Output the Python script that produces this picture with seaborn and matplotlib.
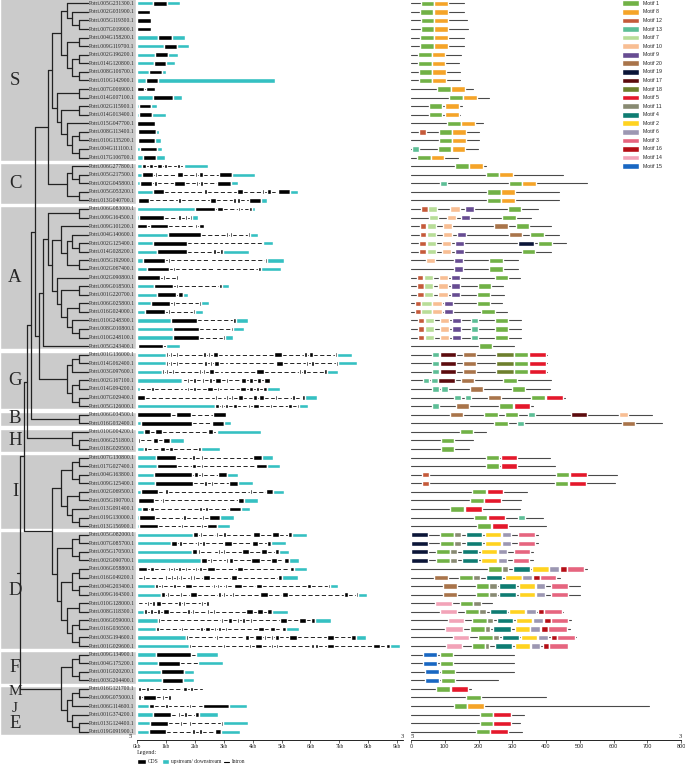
import matplotlib.pyplot as plt
import seaborn as sns

# gene order (top to bottom), grouped into subfamilies
gene_ids = [
    "005G231300", "002G031900", "005G119300", "007G019900", "004G158200", "009G119700",
    "002G196200", "014G120800", "008G106700", "010G142900", "007G006900", "014G007100",
    "002G115900", "014G013400", "015G047700", "008G113400", "010G135200", "004G111100",
    "017G106700",
    "006G277800", "005G217500", "002G045800", "005G053200", "013G040700",
    "006G083000", "009G164500", "009G101200", "004G140600", "002G125400", "014G028200",
    "005G192900", "002G067400", "002G090800", "009G018500", "001G220700", "006G025800",
    "016G024000", "010G248300", "008G010800", "010G248100", "005G243400",
    "001G136000", "014G062400", "003G097600", "002G167100", "014G094200", "007G029400",
    "005G126000",
    "006G034500", "016G032400",
    "010G004200", "006G251800", "018G029500",
    "007G130800", "017G027400", "004G163800", "009G125400", "002G069500", "005G190700",
    "013G091400", "019G130000", "013G156900",
    "005G082000", "007G085700", "005G170500", "002G090700", "006G058800", "016G049200",
    "004G203400", "009G164300", "010G128000", "008G118300", "006G059000", "016G036500",
    "003G194600", "001G029600",
    "009G134900", "004G175200", "001G020200", "003G204400",
    "016G121700", "009G075000",
    "006G114600",
    "001G374200", "013G124400", "019G091900",
]
group_names = ["S", "C", "A", "G", "B", "H", "I", "D", "F", "M", "J", "E"]
group_sizes = [19, 5, 17, 7, 2, 3, 9, 14, 4, 2, 1, 3]

# gene structure in kb: u = upstream/downstream, c = CDS
gene_structs = [
    "u0-0.57 c0.57-1.03 u1.03-1.49", "c0-0.45", "c0-0.47", "c0-0.47",
    "u0-0.74 c0.74-1.2 u1.2-1.67", "u0-0.93 c0.93-1.4 u1.4-1.79",
    "u0-0.62 c0.62-1.06 u1.06-1.41", "u0-0.59 c0.59-0.99 u0.99-1.31",
    "u0-0.43 c0.43-0.85 u0.85-0.99", "u0-0.31 c0.31-0.74 u0.74-4.78",
    "c0-0.23 c0.31-0.62", "u0-0.57 c0.57-1.26 u1.26-1.57",
    "u0-0.06 c0.06-0.49 u0.49-0.68", "u0-0.07 c0.07-0.51 u0.51-0.99", "c0-0.62",
    "u0-0.05 c0.05-0.65 u0.65-0.76", "u0-0.05 c0.05-0.62 u0.62-0.83",
    "u0-0.1 c0.1-0.68 u0.68-0.88", "u0-0.22 c0.22-0.65 u0.65-0.97",
    "u0-0.16 c0.16-0.3 c0.43-0.57 c0.7-0.85 c0.95-1.03 c1.37-1.49 c1.58-1.63 u1.63-2.45",
    "u0-0.17 c0.17-0.57 c0.62-0.7 c1.4-1.6 c2.01-2.09 c2.16-2.3 c2.84-3.28 u3.28-4.08",
    "u0-0.1 c0.1-0.53 c0.6-0.68 c1.28-1.66 c2.03-2.1 c2.18-2.3 c2.76-3.24 u3.24-3.48",
    "u0-0.57 c0.57-0.95 c2.33-2.41 c3.45-3.66 c4.34-4.41 c4.51-4.63 c4.89-5.29 u5.29-5.56",
    "c0.05-0.43 c1.43-1.52 c2.53-2.74 c3.33-3.43 c3.47-3.56 c3.88-4.28 u4.28-4.49",
    "u0-2.0 c2.0-2.7 c2.76-2.99 c3.5-3.56 c3.66-3.7 c3.88-3.97 u3.97-4.1",
    "u0-0.07 c0.07-0.93 c1.43-1.52 c1.66-1.72 c1.83-1.91 u1.91-2.1",
    "c0-0.36 c0.45-1.08 c2.0-2.09 c2.16-2.33",
    "u0-1.08 c1.08-2.2 c3.08-3.14 c3.22-3.28 c3.85-3.91 u3.91-4.18",
    "u0-0.54 c0.54-1.74 c2.79-2.85 c2.99-3.02 c4.31-4.37 u4.37-4.72",
    "u0-0.68 c0.68-1.74 c2.64-2.72 c2.87-2.96 u2.96-3.89",
    "u0-0.2 c0.2-0.97 c1.08-1.14 c2.53-2.56 c4.43-4.51 u4.51-5.1",
    "u0-0.36 c0.36-1.12 c1.26-1.31 c2.7-2.73 c4.2-4.28 u4.28-4.98",
    "c0-0.8 c0.91-0.97 c1.35-1.41",
    "u0-0.59 c0.59-1.26 c1.35-1.41 c2.85-2.93 u2.93-3.18",
    "u0-0.7 c0.7-1.35 c1.43-1.6 u1.6-1.75",
    "u0-0.48 c0.48-1.14 c1.23-1.3 c2.16-2.21 u2.21-2.49",
    "u0-0.28 c0.28-0.97 c1.06-1.13 c1.93-2.0 u2.0-2.27",
    "u0-1.16 c1.16-2.06 c3.33-3.41 u3.41-3.83",
    "u0-1.23 c1.23-2.14 c3.24-3.32 u3.32-3.7",
    "u0-1.23 c1.23-2.14 c2.99-3.06 u3.06-3.31",
    "u0-0.05 c0.05-0.89 u1.0-1.49",
    "u0-1.0 c1.0-1.06 c1.14-1.2 c1.35-1.41 c2.3-2.38 c2.44-2.51 c2.64-2.79 c3.14-3.17 c4.74-5.03 c5.78-5.87 c5.96-6.08 c6.85-6.93 u6.93-7.43",
    "u0-1.0 c1.0-1.06 c1.14-1.2 c1.35-1.41 c2.32-2.41 c2.53-2.61 c2.68-2.84 c3.16-3.2 c4.8-5.06 c5.84-5.93 c6.02-6.12 c6.87-6.94 u6.94-7.6",
    "u0-0.87 c0.87-0.93 c1.02-1.08 c1.2-1.28 c2.16-2.21 c2.3-2.36 c2.49-2.66 c2.96-3.0 c4.12-4.41 c5.61-5.68 c5.76-5.84 c6.47-6.56 u6.56-6.94",
    "u0-1.55 c1.55-1.6 c1.74-1.81 c1.95-2.03 c2.25-2.33 c2.5-2.58 c2.7-2.9 c3.07-3.14 c3.59-3.77 c3.88-4.0 c4.14-4.28 c4.39-4.6",
    "u0-0.1 c0.47-0.59 c1.58-1.64 c1.74-1.81 c1.95-2.03 c2.43-2.64 c2.78-2.84 c2.93-2.99 c3.56-3.76 c3.88-4.0 c4.12-4.23 c4.37-4.49 u4.49-4.95",
    "c0-0.28 c2.7-2.78 c2.93-2.99 c3.08-3.16 c3.25-3.33 c3.51-3.66 c3.79-3.85 c4.03-4.14 c4.22-4.39 c4.78-4.83 c5.38-5.47 c5.7-5.81 u5.81-6.22",
    "u0-2.7 c2.7-2.84 c2.91-2.99 c3.05-3.16 c3.31-3.47 c3.59-3.64 c3.85-3.91 c4.0-4.22 c4.6-4.66 c5.24-5.35 c5.53-5.62 u5.62-5.9",
    "c0-1.16 c1.35-1.86 c2.64-3.08",
    "u0-0.13 c0.13-1.89 c2.58-3.01 u3.01-3.24",
    "u0-0.24 c0.24-0.45 c0.62-0.85 c2.47-2.64 c2.72-2.78 u2.78-4.29",
    "c0.02-0.1 c0.57-0.74 c0.89-1.14 u1.14-1.64",
    "u0-0.24 c0.24-0.36 c0.8-0.97 c1.11-1.26 c2.12-2.21 u2.21-2.87",
    "u0-0.66 c0.66-1.35 c1.89-2.0 c2.2-2.29 c4.0-4.31 u4.31-4.69",
    "u0-0.68 c0.68-1.37 c1.91-2.03 c2.22-2.3 c4.12-4.49 u4.49-4.95",
    "u0-0.59 c0.59-1.91 c1.98-2.12 c2.2-2.27 c2.81-3.12 u3.12-3.48",
    "u0-0.62 c0.62-1.95 c2.33-2.43 c2.55-2.62 c3.18-3.48 u3.48-4.03",
    "u0-0.13 c0.13-0.72 c0.97-1.08 c3.91-3.97 c4.45-4.69 u4.69-5.09",
    "u0-0.05 c0.05-0.59 c0.85-0.95 c2.93-2.99 c3.51-3.7 u3.7-4.18",
    "u0-0.16 c0.16-0.39 c0.45-0.6 c2.16-2.24 c2.35-2.47 c3.19-3.59 u3.59-3.91",
    "u0-0.07 c0.07-0.62 c1.58-1.7 c2.24-2.32 c2.5-2.87 u2.87-3.37",
    "u0-0.08 c0.08-0.74 c1.52-1.6 c2.22-2.3 c2.43-2.78 u2.78-3.22",
    "u0-1.95 c1.95-2.12 c2.18-2.24 c2.72-2.79 c2.97-3.07 c4.0-4.26 c4.68-4.91 c5.24-5.37 u5.37-5.89",
    "u0-1.18 c1.18-1.37 c1.47-1.55 c2.06-2.15 c2.24-2.35 c3.01-3.28 c3.97-4.18 c4.49-4.64 u4.64-5.16",
    "u0-1.91 c1.91-2.06 c2.12-2.18 c2.62-2.68 c2.81-2.87 c2.96-3.04 c3.62-3.88 c4.29-4.49 c4.79-4.91 u4.91-5.26",
    "u0-2.21 c2.21-2.41 c2.53-2.58 c2.93-2.99 c3.08-3.14 c3.2-3.31 c3.94-4.26 c4.62-4.83 c5.1-5.26 u5.26-5.61",
    "c0.02-0.33 c0.45-0.59 c1.08-1.14 c1.23-1.31 c1.43-1.51 c1.66-1.72 c1.86-1.91 c2.01-2.09 c2.16-2.24 c2.41-2.7 c3.45-3.68 c5.29-5.44 u5.44-5.89",
    "c0-0.05 c0.2-0.28 c0.97-1.03 c1.16-1.23 c1.35-1.41 c1.49-1.57 c1.68-1.74 c1.83-1.89 c1.95-2.01 c2.27-2.53 c3.24-3.45 c4.87-5.01 u5.01-5.58",
    "u0-0.62 c0.62-0.74 c0.82-0.91 c1.26-1.34 c1.66-1.91 c2.62-2.7 c2.78-2.85 c2.93-2.99 c3.05-3.13 c3.37-3.63 c4.11-4.34 c5.89-6.01 c6.6-6.68 u6.68-6.94",
    "u0-0.83 c0.83-0.97 c1.05-1.12 c1.49-1.56 c1.83-2.09 c2.81-2.9 c2.97-3.05 c3.14-3.2 c3.3-3.37 c4.26-4.52 c5.01-5.24 c7.16-7.31 c7.58-7.66 u7.66-7.95",
    "c0-0.05 c0.2-0.25 c0.33-0.42 c0.51-0.62 c0.66-0.83 c1.24-1.29 c1.43-1.52 c1.6-1.66 c2.22-2.3 c2.39-2.5",
    "u0-0.25 c0.25-0.33 c0.45-0.57 c0.7-0.8 c0.89-1.11 c1.74-1.83 c1.89-1.97 c2.43-2.5 c2.62-2.7 c3.77-4.03 c4.14-4.37 c4.49-4.66 u4.66-5.21",
    "u0-0.73 c0.73-0.8 c2.89-2.97 c3.15-3.3 c3.45-3.52 c3.65-3.75 c3.9-3.98 c4.95-5.18 c5.61-5.85 c6.01-6.16 u6.16-6.7",
    "u0-0.67 c0.67-0.77 c1.53-1.6 c2.18-2.28 c2.36-2.54 c2.66-2.74 c2.81-2.89 c3.04-3.11 c4.17-4.4 c4.6-4.78 c5.03-5.15 u5.15-5.6",
    "u0-1.68 c1.68-1.76 c2.74-2.82 c3.72-3.87 c4.1-4.33 c4.4-4.48 c4.63-4.7 c4.78-4.93 c5.26-5.53 c6.59-6.82 c7.42-7.57 u7.57-7.92",
    "u0-1.79 c1.79-1.86 c2.97-3.04 c3.87-3.95 c4.1-4.33 c4.63-4.7 c4.81-4.89 c6.02-6.11 c6.17-6.25 c6.56-6.82 c8.18-8.4 c8.63-8.75 u8.75-9.11",
    "u0-0.67 c0.67-1.88 u2.03-2.79", "u0-0.73 c0.73-1.48 u2.1-2.97",
    "u0-0.82 c0.82-1.61 u1.61-1.96", "u0-0.88 c0.88-1.58 u1.58-1.96",
    "c0.02-0.13 c0.32-0.43 c1.6-1.72 c1.83-1.94 c2.28-2.33",
    "c0.03-0.13 c0.22-0.67 c0.85-0.93 c1.08-1.19",
    "u0-0.4 c0.4-0.58 c0.97-1.08 c1.2-1.26 c1.8-1.86 c2.06-2.1 c2.28-3.19 u3.19-3.8",
    "u0-0.55 c0.55-1.18 c1.42-1.5 c1.61-1.73 c1.99-2.14 u2.14-2.82",
    "u0-0.44 c0.44-1.08 c1.48-1.56 c1.79-1.88 c2.89-2.97 u2.97-3.84",
    "u0-0.4 c0.4-1.0 c1.91-1.99 c2.14-2.24 c2.7-2.89 u2.89-3.57",
]

# protein length (aa) and motif positions "motif:start-end"
protein_len = [
    158, 158, 165, 168, 158, 158, 148, 142, 146, 146, 184, 232, 150, 145, 212, 202, 202, 198, 138,
    222, 449, 521, 438, 438,
    375, 356, 414, 438, 460, 414, 317, 317, 324, 272, 276, 270, 283, 325, 325, 325, 305,
    403, 403, 403, 414, 412, 456, 360,
    715, 744,
    222, 183, 171,
    412, 428, 611, 604, 344, 325, 322, 390, 400,
    375, 375, 362, 360, 520, 440, 501, 501, 240, 451, 473, 471, 490, 464,
    306, 306, 306, 257,
    179, 400,
    706,
    335, 322, 329,
]
motif_sites = [
    "1:30-69 8:69-109", "1:27-66 8:68-109", "1:30-69 8:69-111", "1:30-69 8:69-111",
    "1:27-68 8:68-109", "1:27-68 8:68-109", "1:22-61 8:61-102", "1:22-61 8:61-102",
    "1:24-63 8:63-104", "1:24-63 8:63-104", "1:78-118 8:119-159", "1:113-155 8:155-195",
    "1:53-93 8:100-141", "1:53-93 8:100-141", "1:108-148 8:149-189",
    "12:24-43 1:82-121 8:122-163", "1:82-121 8:122-163", "13:2-24 1:80-119 8:120-160",
    "1:19-58 8:59-99",
    "1:130-172 8:172-212", "1:222-262 8:262-303", "13:86-106 1:289-330 8:330-370",
    "1:226-266 8:266-308", "1:226-266 8:266-308",
    "12:30-49 7:49-78 10:117-145 9:160-187 1:286-325",
    "7:53-81 10:106-133 9:148-175 1:269-310",
    "12:27-44 7:46-74 10:96-122 20:247-286 1:310-350",
    "12:27-44 7:46-74 10:96-122 9:137-162 20:290-330 1:353-393",
    "12:25-44 7:46-74 10:91-118 9:130-157 19:317-363 1:377-417",
    "12:25-44 7:46-74 10:91-118 9:130-157 1:328-368",
    "10:44-71 9:128-155 1:232-272", "9:128-155 1:232-272",
    "12:19-37 7:39-66 10:83-111 9:118-145 1:249-288",
    "12:19-38 7:38-66 10:81-109 9:118-145 1:198-237",
    "12:19-38 7:38-66 10:81-109 9:118-145 1:195-234",
    "12:12-31 7:31-61 10:63-93 9:97-123 1:195-235",
    "12:12-31 7:31-61 10:63-93 9:97-123 1:207-248",
    "12:20-39 7:41-69 10:86-113 9:120-147 13:179-199 1:249-288",
    "12:20-39 7:41-69 10:86-113 9:120-147 13:179-199 1:249-288",
    "12:20-39 7:41-69 10:86-113 9:120-147 13:179-199 1:249-288",
    "1:201-240",
    "13:62-82 17:86-133 20:154-194 18:253-305 1:306-346 5:350-400",
    "13:62-82 17:86-133 20:154-194 18:253-305 1:306-346 5:350-400",
    "13:62-82 17:86-133 20:154-194 18:253-305 1:306-346 5:350-400",
    "13:35-54 13:59-79 17:81-130 20:147-187 1:274-314",
    "13:63-83 13:89-109 20:174-214 1:298-338",
    "13:127-148 13:159-179 20:228-268 1:355-397 5:399-449",
    "13:62-82 20:132-171 1:260-301 5:304-353",
    "20:115-155 1:217-257 1:279-318 13:347-366 17:473-522 10:616-644",
    "1:246-286 13:315-335 20:624-663",
    "1:144-184", "1:89-128", "1:89-128",
    "1:222-262 5:266-315", "1:222-262 5:266-315",
    "12:33-52 1:429-469 5:472-520", "12:33-52 1:427-466 5:468-518",
    "1:181-221 5:225-274", "1:174-215 5:217-267", "1:117-157 5:160-209",
    "1:186-226 5:229-278 13:318-338", "1:196-237 5:240-288",
    "19:0-49 1:87-128 11:128-147 4:163-211 2:219-267 6:269-296 3:318-367",
    "19:0-49 1:87-128 11:128-147 4:163-211 2:219-267 6:269-296 3:318-367",
    "19:0-49 1:74-116 11:116-136 4:151-199 2:206-256 6:258-285 3:305-354",
    "19:0-49 1:74-116 11:116-136 4:151-199 2:206-256 6:258-285 3:301-350",
    "1:227-269 11:269-288 4:301-352 2:359-408 6:410-438 16:442-461 3:463-512",
    "20:68-109 1:142-183 11:183-204 4:222-271 2:278-328 6:330-358 16:361-381 3:381-431",
    "20:96-135 1:192-232 11:232-254 4:262-311 2:319-367 6:370-398 3:416-466",
    "20:96-135 1:192-232 11:232-254 4:262-311 2:319-367 6:370-398 3:416-466",
    "14:71-120 1:145-185 11:185-207",
    "14:86-135 1:160-201 11:201-222 4:234-284 2:290-339 6:342-370 16:375-395 3:395-446",
    "14:109-158 1:182-224 11:224-244 4:254-303 2:310-359 6:361-390 16:395-415 3:415-466",
    "14:102-154 1:176-219 11:219-234 4:244-296 2:309-354 6:354-383 16:386-407 3:407-462",
    "14:125-173 1:199-244 11:244-260 4:270-319 2:326-374 6:377-406 16:414-432 3:432-485",
    "14:104-151 1:180-219 11:219-232 4:248-299 2:307-352 6:355-383 16:391-410 3:410-464",
    "15:35-76 1:85-125", "15:35-76 1:85-125", "15:41-83 1:90-131", "15:41-83 1:90-131",
    "1:73-115 5:118-169", "1:164-206",
    "1:128-167 8:167-216",
    "1:203-244 5:244-296", "1:205-244 5:244-296", "1:192-234 5:234-286",
]

motif_order = [1, 8, 12, 13, 7, 10, 9, 20, 19, 17, 18, 5, 11, 4, 2, 6, 3, 16, 14, 15]
motif_colors = ["#71B146", "#F5A428", "#C55A3A", "#5DBE96", "#B8DD98", "#F8BE93", "#674C92",
                "#A9744A", "#0B1538", "#5C0B0D", "#6D7F2D", "#E4182B", "#888A72", "#0E7C72",
                "#FFD320", "#9C97B2", "#E6657F", "#B50E16", "#F2A3B8", "#1867C2"]

# tree topology (row indices)
tree_S = [[[0, [1, [2, 3]]], [[4, 5], [[6, 7], [8, 9]]]],
          [[10, 11], [[12, 13], [14, [[15, 16], [17, 18]]]]]]
tree_C = [[19, [20, 21]], [22, 23]]
tree_A = [[[24, 25], [[26, [[27, [28, 29]], [30, 31]]],
                      [32, [[33, 34], [[35, 36], [37, [38, 39]]]]]]], 40]
tree_G = [[[41, 42], 43], [[44, 45], [46, 47]]]
tree_B = [48, 49]
tree_H = [50, [51, 52]]
tree_I = [[[53, 54], [55, 56]], [[57, 58], [59, [60, 61]]]]
tree_D = [[[62, 63], [64, 65]], [[[66, 67], [68, 69]], [[70, 71], [[72, 73], [74, 75]]]]]
tree_F = [[76, 77], [78, 79]]
tree_M = [80, 81]
tree_E = [83, [84, 85]]
tree = [[[[[[tree_S, tree_C], [tree_A, tree_G]], tree_B], tree_H], [tree_I, tree_D]],
        [tree_F, [[tree_M, 82], tree_E]]]

TEAL = "#35C0C2"
GRAY = "#CBCBCB"
TREE_COL = "#222222"

sns.set_theme(style="white")
plt.rcParams["font.family"] = ["Liberation Serif", "DejaVu Serif"]

W, H = 685, 765
fig = plt.figure(figsize=(W / 100, H / 100), dpi=100)
ylim = (85.96, -0.385)
ax_bottom, ax_height = 25 / H, 740 / H
ax_t = fig.add_axes([0, ax_bottom, 136 / W, ax_height])
ax_g = fig.add_axes([137 / W, ax_bottom, 266 / W, ax_height])
ax_m = fig.add_axes([411 / W, ax_bottom, 270 / W, ax_height])
for ax in (ax_g, ax_m):
    ax.patch.set_alpha(0)
for ax in (ax_t, ax_g, ax_m):
    ax.set_ylim(*ylim)

# ---- tree panel ----
ax_t.set_xlim(0, 136)
ax_t.axis("off")
starts = [sum(group_sizes[:k]) for k in range(len(group_sizes))]
blocks = [(0, 18), (19, 23), (24, 40), (41, 47), (48, 49), (50, 52), (53, 61), (62, 75),
          (76, 79), (80, 85)]
for a, b in blocks:
    top = a - 0.5 + (0.13 if a > 0 else -0.2)
    ax_t.broken_barh([(0, 136)], (top, b + 0.5 - 0.13 - top), facecolors=GRAY, zorder=0)
letter_pos = {"M": 80.3, "J": 82.3}
for name, s, n in zip(group_names, starts, group_sizes):
    yc = letter_pos.get(name, s + (n - 1) / 2)
    fs = 11 if name in ("M", "J") else 13.5
    ax_t.text(15, yc, name, ha="center", va="center", fontsize=fs, zorder=3)

tip_x, root_x = 88, 20


def height_of(node):
    if isinstance(node, int):
        return 0
    return 1 + max(height_of(c) for c in node)


tree_depth = height_of(tree)
tree_segments = []


def layout_node(node):
    if isinstance(node, int):
        return tip_x, node
    pts = [layout_node(c) for c in node]
    x = tip_x - (tip_x - root_x) * (height_of(node) / tree_depth) ** 0.75
    ys = [p[1] for p in pts]
    tree_segments.append(([x, x], [min(ys), max(ys)]))
    for cx, cy in pts:
        tree_segments.append(([x, cx], [cy, cy]))
    return x, (min(ys) + max(ys)) / 2


rx, ry = layout_node(tree)
tree_segments.append(([rx - 3, rx], [ry, ry]))
for xs, ys in tree_segments:
    ax_t.plot(xs, ys, color=TREE_COL, lw=0.9, zorder=4)

for i, g in enumerate(gene_ids):
    ax_t.text(89, i, f"Potri.{g}.1", ha="left", va="center", fontsize=4.0, zorder=5)

# ---- gene structure panel ----
ax_g.set_xlim(0, 266 / 28.9)
for i, s in enumerate(gene_structs):
    parts = []
    for tok in s.split():
        a, b = tok[1:].split("-")
        parts.append((tok[0], float(a), float(b)))
    for (k1, a1, b1), (k2, a2, b2) in zip(parts[:-1], parts[1:]):
        if a2 - b1 > 0.01:
            ax_g.plot([b1, a2], [i, i], color="black", lw=0.6, ls=(0, (5, 3)), zorder=1)
    for kind, a, b in parts:
        col = "black" if kind == "c" else TEAL
        bh = 0.55 if kind == "c" else 0.5
        ax_g.broken_barh([(a, b - a)], (i - bh / 2, bh), facecolors=col, zorder=2)

ax_g.set_xticks(range(10))
ax_g.set_xticklabels([f"{k}kb" for k in range(10)])
ax_g.set_yticks([])
ax_g.tick_params(axis="x", length=2, width=0.5, pad=1, labelsize=4, bottom=True)
sns.despine(ax=ax_g, left=True)
ax_g.spines["bottom"].set_linewidth(0.6)
ax_g.spines["bottom"].set_color("black")
ax_g.text(-0.2, 85.5, "5'", ha="center", va="center", fontsize=4.5)
ax_g.text(9.2, 85.5, "3'", ha="center", va="center", fontsize=4.5)

# structure legend below the axis
leg_fs = 4.0
ax_g.text(0, 87.4, "Legend:", ha="left", va="center", fontsize=leg_fs + 0.4, clip_on=False)
ax_g.broken_barh([(0, 0.31)], (88.5 - 0.3, 0.6), facecolors="black", clip_on=False)
ax_g.text(0.38, 88.5, "CDS", ha="left", va="center", fontsize=leg_fs, clip_on=False)
ax_g.broken_barh([(0.87, 0.25)], (88.5 - 0.3, 0.6), facecolors=TEAL, clip_on=False)
ax_g.text(1.18, 88.5, "upstream/ downstream", ha="left", va="center", fontsize=leg_fs,
          clip_on=False)
ax_g.plot([3.0, 3.2], [88.5, 88.5], color="black", lw=0.8, clip_on=False)
ax_g.text(3.27, 88.5, "Intron", ha="left", va="center", fontsize=leg_fs, clip_on=False)

# ---- motif panel ----
sans = ["Liberation Sans", "DejaVu Sans"]
ax_m.set_xlim(0, 800)
color_of = dict(zip(motif_order, motif_colors))
for i, (L, s) in enumerate(zip(protein_len, motif_sites)):
    ax_m.plot([0, L], [i, i], color="#4a4a4a", lw=0.8, zorder=1)
    for tok in s.split():
        m, rng = tok.split(":")
        a, b = rng.split("-")
        a, b = float(a), float(b)
        ax_m.broken_barh([(a, b - a)], (i - 0.31, 0.62), facecolors=color_of[int(m)],
                         zorder=2)

for k, (m, col) in enumerate(zip(motif_order, motif_colors)):
    ax_m.broken_barh([(625, 51)], (k - 0.33, 0.66), facecolors=col)
    ax_m.text(686, k, f"Motif {m}", ha="left", va="center", fontsize=3.8, family=sans)

ax_m.set_xticks(range(0, 801, 100))
ax_m.set_yticks([])
ax_m.tick_params(axis="x", length=2, width=0.5, pad=1, labelsize=4, bottom=True)
for lab in ax_m.get_xticklabels():
    lab.set_family(sans)
sns.despine(ax=ax_m, left=True)
ax_m.spines["bottom"].set_linewidth(0.6)
ax_m.spines["bottom"].set_color("black")
ax_m.text(5, 85.5, "5'", ha="center", va="center", fontsize=4.5)
ax_m.text(800, 85.5, "3'", ha="center", va="center", fontsize=4.5)

fig.savefig("out.png", dpi=100)
